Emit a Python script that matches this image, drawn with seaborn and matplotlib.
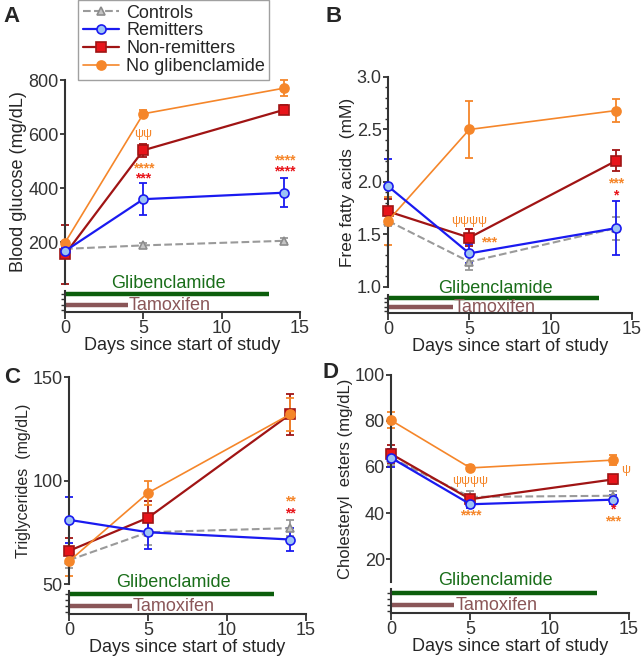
import matplotlib
matplotlib.use("Agg")
import matplotlib.pyplot as plt
from matplotlib.lines import Line2D
import seaborn as sns

days = [0, 5, 14]
groups = ["Controls", "Remitters", "Non-remitters", "No glibenclamide"]
draw_order = ["Controls", "Non-remitters", "No glibenclamide", "Remitters"]

# treatment periods (days)
gliben_days = [0, 13]
tamox_days = [0, 4]

# A - blood glucose (mg/dL)
glu_mean = {"Controls": [175, 188, 205], "Remitters": [167, 359, 383],
            "Non-remitters": [155, 540, 690], "No glibenclamide": [198, 675, 770]}
glu_err = {"Controls": [8, 10, 10], "Remitters": [12, 60, 53],
           "Non-remitters": [110, 25, 17], "No glibenclamide": [8, 13, 30]}

# B - free fatty acids (mM)
ffa_mean = {"Controls": [1.63, 1.24, 1.56], "Remitters": [1.96, 1.32, 1.56],
            "Non-remitters": [1.72, 1.47, 2.20], "No glibenclamide": [1.63, 2.50, 2.68]}
ffa_err = {"Controls": [0.05, 0.08, 0.11], "Remitters": [0.26, 0.09, 0.26],
           "Non-remitters": [0.12, 0.08, 0.10], "No glibenclamide": [0.23, 0.27, 0.11]}

# C - triglycerides (mg/dL)
tg_mean = {"Controls": [61.5, 75, 77], "Remitters": [81, 75, 71.5],
           "Non-remitters": [66, 82, 132], "No glibenclamide": [61, 94, 132]}
tg_err = {"Controls": [4, 6, 4], "Remitters": [11, 8, 5.5],
          "Non-remitters": [6, 8, 10], "No glibenclamide": [7, 6, 8]}

# D - cholesteryl esters (mg/dL)
ce_mean = {"Controls": [64, 47, 47.5], "Remitters": [64, 43.8, 45.8],
           "Non-remitters": [65.7, 46, 54.6], "No glibenclamide": [80.3, 59.6, 63]}
ce_err = {"Controls": [3, 2.5, 2], "Remitters": [4, 1.5, 2],
          "Non-remitters": [4, 1.5, 2], "No glibenclamide": [3.5, 1.2, 2]}

ORANGE = "#f5862a"
RED = "#e8141a"
styles = {
    "Controls": dict(color="#9a9a9a", ls="--", marker="^", mfc="#c4c4c4", mec="#8c8c8c", ms=6, lw=1.5),
    "Remitters": dict(color="#1a1af0", ls="-", marker="o", mfc="#9cc3f5", mec="#1a1af0", ms=6.5, lw=1.6),
    "Non-remitters": dict(color="#a01414", ls="-", marker="s", mfc=RED, mec="#a01414", ms=6.5, lw=1.6),
    "No glibenclamide": dict(color=ORANGE, ls="-", marker="o", mfc=ORANGE, mec=ORANGE, ms=6.5, lw=1.2),
}

# significance marks: (day, y, text, colour)
ann_a = [(5, 600, "ψψ", ORANGE), (5, 472, "****", ORANGE), (5, 436, "***", RED),
         (14, 501, "****", ORANGE), (14, 461, "****", RED)]
ann_b = [(5, 1.63, "ψψψψ", ORANGE), (6.2, 1.42, "***", ORANGE),
         (14, 1.99, "***", ORANGE), (14, 1.87, "*", RED)]
ann_c = [(14, 90, "**", ORANGE), (14, 84, "**", RED)]
ann_d = [(5, 54, "ψψψψ", ORANGE), (5, 39, "****", ORANGE), (14.8, 58.5, "ψ", ORANGE),
         (14, 41.5, "*", RED), (14, 36.5, "***", ORANGE)]

sns.set_theme(style="ticks")
plt.rcParams["font.family"] = ["Liberation Sans", "DejaVu Sans"]
plt.rcParams["axes.edgecolor"] = "#333333"
plt.rcParams["xtick.color"] = "#333333"
plt.rcParams["ytick.color"] = "#333333"

fig = plt.figure(figsize=(6.41, 6.59), dpi=100)

panels = [
    # main rect, lower rect, data, ylim, yticks, ylabel, label size, letter, letter pos, annotations
    ([0.1014, 0.569, 0.3666, 0.3096], [0.1014, 0.5266, 0.3666, 0.0318], glu_mean, glu_err,
     (45, 800), [200, 400, 600, 800], "Blood glucose (mg/dL)", 13, "A", (0.006, 0.975), ann_a),
    ([0.6053, 0.5645, 0.3807, 0.3187], [0.6053, 0.525, 0.3807, 0.0274], ffa_mean, ffa_err,
     (1.0, 3.0), [1.0, 1.5, 2.0, 2.5, 3.0], "Free fatty acids  (mM)", 12.5, "B", (0.508, 0.975), ann_b),
    ([0.1076, 0.1138, 0.3698, 0.3141], [0.1076, 0.0683, 0.3698, 0.0349], tg_mean, tg_err,
     (50, 150), [50, 100, 150], "Triglycerides  (mg/dL)", 11.5, "C", (0.006, 0.427), ann_c),
    ([0.61, 0.1168, 0.3713, 0.3142], [0.61, 0.0698, 0.3713, 0.0364], ce_mean, ce_err,
     (10, 100), [20, 40, 60, 80, 100], "Cholesteryl  esters (mg/dL)", 12, "D", (0.503, 0.434), ann_d),
]

for i, (rect, rect2, means, errs, ylim, yticks, ylabel, lsize, letter, lpos, ann) in enumerate(panels):
    ax = fig.add_axes(rect)
    for k, g in enumerate(draw_order):
        st = styles[g]
        ax.errorbar(days, means[g], yerr=errs[g], fmt="none", ecolor=st["color"],
                    elinewidth=1.3, capsize=3, capthick=1.3, clip_on=False, zorder=2 + k * 0.1)
        sns.lineplot(x=days, y=means[g], ax=ax, color=st["color"], linestyle=st["ls"],
                     marker=st["marker"], markerfacecolor=st["mfc"], markeredgecolor=st["mec"],
                     markersize=st["ms"], markeredgewidth=1.2, linewidth=st["lw"],
                     clip_on=False, zorder=3 + k * 0.1, legend=False, errorbar=None)
    ax.set_xlim(0, 15)
    ax.set_ylim(*ylim)
    ax.set_yticks(yticks)
    if i == 1:
        ax.set_yticklabels([f"{t:.1f}" for t in yticks])
        ax.set_yticks([1.1, 1.2, 1.3, 1.4, 1.6, 1.7, 1.8, 1.9, 2.1, 2.2, 2.3, 2.4,
                       2.6, 2.7, 2.8, 2.9], minor=True)
        ax.tick_params(axis="y", which="minor", length=2.5, width=1, left=True)
    ax.set_xticks([])
    for s in ["top", "right", "bottom"]:
        ax.spines[s].set_visible(False)
    ax.spines["left"].set_linewidth(1.5)
    ax.tick_params(axis="y", labelsize=13, length=3.5, width=1.3, pad=1)
    ax.set_ylabel(ylabel, fontsize=lsize, labelpad=1)
    for x, y, t, c in ann:
        ax.text(x, y, t, color=c, fontsize=10 if "*" in t else 9, ha="center", va="center",
                fontweight="bold" if "*" in t else "normal", zorder=5)
    fig.text(lpos[0], lpos[1], letter, fontsize=16, fontweight="bold", va="center")

    # treatment bars underneath
    ax2 = fig.add_axes(rect2)
    ax2.set_xlim(0, 15)
    ax2.set_ylim(0, 1)
    ax2.plot(gliben_days, [0.85, 0.85], color="#0c5e0c", lw=3.2, solid_capstyle="butt", clip_on=False)
    ax2.plot(tamox_days, [0.33, 0.33], color="#8a5658", lw=3.2, solid_capstyle="butt", clip_on=False)
    ax2.text(6.6, 1.35, "Glibenclamide", color="#1a6e1a", fontsize=13, ha="center", va="center")
    ax2.text(tamox_days[1] + 0.05, 0.33, "Tamoxifen", color="#8a5658", fontsize=13,
             ha="left", va="center")
    for s in ["top", "right"]:
        ax2.spines[s].set_visible(False)
    ax2.spines["left"].set_linewidth(1.5)
    ax2.spines["bottom"].set_linewidth(1.5)
    ax2.set_yticks([0.1, 0.35, 0.6, 0.85])
    ax2.set_yticklabels([])
    ax2.tick_params(axis="y", length=3, width=1)
    ax2.set_xticks([0, 5, 10, 15])
    ax2.tick_params(axis="x", labelsize=13, length=5, width=1.3, pad=1)
    ax2.set_xlabel("Days since start of study", fontsize=13, labelpad=0)

handles = [Line2D([], [], color=styles[g]["color"], linestyle=styles[g]["ls"],
                  marker=styles[g]["marker"], markerfacecolor=styles[g]["mfc"],
                  markeredgecolor=styles[g]["mec"], markersize=styles[g]["ms"],
                  markeredgewidth=1.2, linewidth=styles[g]["lw"]) for g in groups]
leg = fig.legend(handles=handles, labels=groups, loc="upper left", bbox_to_anchor=(0.122, 1.0),
                 fontsize=13, frameon=True, fancybox=False, handlelength=2.0, borderpad=0.25,
                 labelspacing=0.05, handletextpad=0.4, borderaxespad=0)
leg.get_frame().set_edgecolor("#888888")
leg.get_frame().set_linewidth(1)

fig.savefig("out.png", dpi=100)
